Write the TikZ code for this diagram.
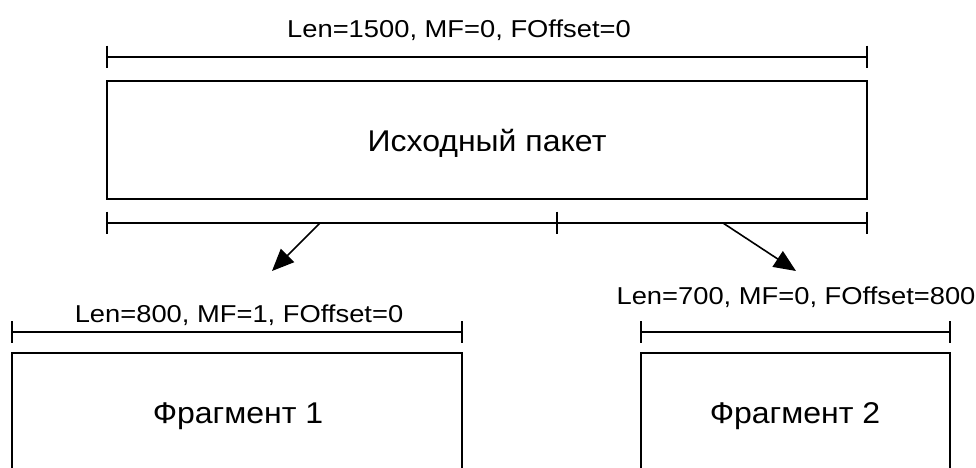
\documentclass[tikz,border=0pt]{standalone}
\usepackage{fontspec}
\setmainfont{Liberation Sans}
\newfontfamily\dimfont{Liberation Sans}[FakeStretch=1.12]
\newfontfamily\boxfont{Liberation Sans}[FakeStretch=1.067]
\usetikzlibrary{arrows.meta}
\begin{document}
\begin{tikzpicture}[x=0.75pt,y=-0.75pt,
  ln/.style={line width=1.2pt,black},
  dimtext/.style={inner sep=0pt,anchor=base,font=\dimfont\fontsize{18.3}{20}\selectfont},
  boxtext/.style={inner sep=0pt,anchor=base,font=\boxfont\fontsize{22.5}{24}\selectfont},
  pbox/.style={draw,line width=1.2pt,rectangle,inner sep=0pt},
  arr/.style={line width=1.2pt,-{Triangle[length=16.5pt,width=14pt]}}]
\useasboundingbox (0,0) rectangle (976,468);
\clip (0,0) rectangle (976,468);
% top dimension
\coordinate (t1) at (107,57);
\coordinate (t2) at (867,57);
\draw[ln] (t1) -- (t2);
\draw[ln] ([yshift=8.6pt]t1) -- ([yshift=-8.6pt]t1);
\draw[ln] ([yshift=8.6pt]t2) -- ([yshift=-8.6pt]t2);
\node[dimtext] (tlab) at (459,37) {Len=1500, MF=0, FOffset=0};
% main box
\node[pbox,minimum width=570pt,minimum height=88.5pt] (pkt) at (487,140) {};
\node[boxtext] (pktlab) at (487,151) {Исходный пакет};
% split dimension
\coordinate (s1) at (107,223);
\coordinate (s2) at (557,223);
\coordinate (s3) at (867,223);
\draw[ln] (s1) -- (s3);
\foreach \p in {s1,s2,s3}
  \draw[ln] ([yshift=8.6pt]\p) -- ([yshift=-8.6pt]\p);
\coordinate (a1s) at (320,223);
\coordinate (a1e) at (272,271);
\coordinate (a2s) at (723,223);
\coordinate (a2e) at (796,271);
\draw[arr] (a1s) -- (a1e);
\draw[arr] (a2s) -- (a2e);
% fragment 1
\coordinate (l1) at (12,332);
\coordinate (l2) at (462,332);
\draw[ln] (l1) -- (l2);
\draw[ln] ([yshift=8.2pt]l1) -- ([yshift=-8.2pt]l1);
\draw[ln] ([yshift=8.2pt]l2) -- ([yshift=-8.2pt]l2);
\node[dimtext] (llab) at (239,322) {Len=800, MF=1, FOffset=0};
\node[pbox,minimum width=337.5pt,minimum height=120pt] (f1) at (237,433) {};
\node[boxtext] (f1lab) at (238,423) {Фрагмент 1};
% fragment 2
\coordinate (r1) at (641,332);
\coordinate (r2) at (950,332);
\draw[ln] (r1) -- (r2);
\draw[ln] ([yshift=8.2pt]r1) -- ([yshift=-8.2pt]r1);
\draw[ln] ([yshift=8.2pt]r2) -- ([yshift=-8.2pt]r2);
\node[dimtext] (rlab) at (796,304) {Len=700, MF=0, FOffset=800};
\node[pbox,minimum width=231.75pt,minimum height=120pt] (f2) at (795.5,433) {};
\node[boxtext] (f2lab) at (795,423) {Фрагмент 2};
\end{tikzpicture}
\end{document}
